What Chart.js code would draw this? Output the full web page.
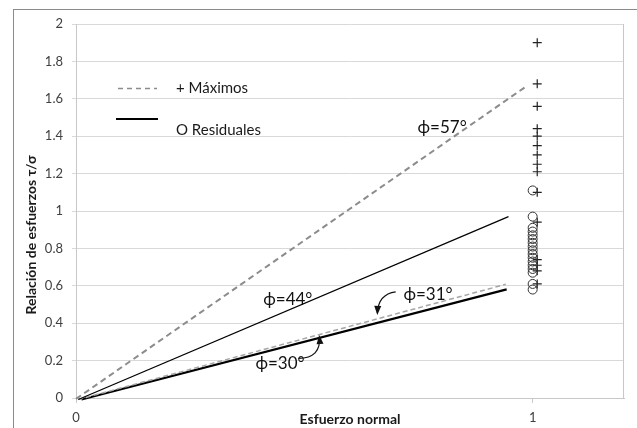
<!DOCTYPE html>
<html lang="es">
<head>
<meta charset="utf-8">
<title>Relación de esfuerzos</title>
<script src="https://cdn.jsdelivr.net/npm/chart.js@4/dist/chart.umd.min.js"></script>
<style>
body { margin: 0; background: #fff; }
#wrap { width: 637px; height: 428px; }
</style>
</head>
<body>
<div id="wrap"><canvas id="chart" width="637" height="428"></canvas></div>
<script>
// values
const xTicks = [0, 1];
const lineLabels = ['ϕ=57°', 'ϕ=44°', 'ϕ=31°', 'ϕ=30°'];
const lineX = [[0, 0.985], [0.005, 0.947], [0.005, 0.941], [0.012, 0.943]];
const lineY = [[-0.005, 1.665], [-0.008, 0.97], [-0.008, 0.608], [-0.008, 0.581]];
const maximosX = 1.01;
const maximosY = [1.90, 1.68, 1.56, 1.44, 1.40, 1.35, 1.30, 1.25, 1.21, 1.10, 0.94, 0.74, 0.71, 0.68, 0.61];
const residualesX = 1;
const residualesY = [1.11, 0.97, 0.91, 0.89, 0.87, 0.85, 0.83, 0.81, 0.79, 0.77, 0.75, 0.73, 0.71, 0.69, 0.67, 0.61, 0.58];
const legendLabels = ['+ Máximos', 'O Residuales'];

const FONT = 'Lato, "DejaVu Sans", sans-serif';

const lineStyles = [
  {color: '#8c8c8c', width: 2, dash: [6, 4]},
  {color: '#000000', width: 1.2, dash: []},
  {color: '#a6a6a6', width: 1.5, dash: [5, 3]},
  {color: '#000000', width: 2.2, dash: []}
];

const datasets = lineLabels.map((lab, i) => ({
  type: 'line',
  label: lab,
  data: lineX[i].map((x, j) => ({x: x, y: lineY[i][j]})),
  borderColor: lineStyles[i].color,
  borderWidth: lineStyles[i].width,
  borderDash: lineStyles[i].dash,
  pointRadius: 0,
  fill: false,
  clip: false
}));
datasets.push({
  type: 'scatter',
  label: 'Residuales',
  data: residualesY.map(y => ({x: residualesX, y: y})),
  pointStyle: 'circle',
  pointRadius: 4.5,
  borderColor: '#333',
  borderWidth: 1,
  backgroundColor: 'rgba(0,0,0,0)'
});
datasets.push({
  type: 'scatter',
  label: 'Máximos',
  data: maximosY.map(y => ({x: maximosX, y: y})),
  pointStyle: 'cross',
  pointRadius: 4.5,
  borderColor: '#222',
  borderWidth: 1.2
});

// label / arrow placement in data units
const notes = [
  {text: lineLabels[0], x: 0.748, y: 1.444},
  {text: lineLabels[1], x: 0.410, y: 0.524},
  {text: lineLabels[2], x: 0.717, y: 0.551},
  {text: lineLabels[3], x: 0.393, y: 0.187}
];
const arrows = [
  {from: [0.700, 0.568], ctrl: [0.662, 0.556], to: [0.660, 0.455]},
  {from: [0.487, 0.212], ctrl: [0.537, 0.214], to: [0.533, 0.326]}
];

const decor = {
  id: 'decor',
  beforeDraw(chart) {
    const ctx = chart.ctx;
    ctx.save();
    ctx.fillStyle = '#fff';
    ctx.fillRect(0, 0, chart.width, chart.height);
    ctx.strokeStyle = '#8a8a8a';
    ctx.lineWidth = 1;
    ctx.strokeRect(13.5, 9.5, 700, 500);
    ctx.restore();
  },
  afterDatasetsDraw(chart) {
    const ctx = chart.ctx;
    const xs = chart.scales.x, ys = chart.scales.y;
    const a = chart.chartArea;
    const px = v => xs.getPixelForValue(v);
    const py = v => ys.getPixelForValue(v);
    ctx.save();
    // plot area frame (right side)
    ctx.strokeStyle = '#c8c8c8';
    ctx.lineWidth = 1;
    ctx.beginPath();
    ctx.moveTo(Math.round(a.right) - 0.5, a.top);
    ctx.lineTo(Math.round(a.right) - 0.5, a.bottom);
    ctx.stroke();

    // annotations
    ctx.fillStyle = '#111';
    ctx.font = '17px ' + FONT;
    ctx.textBaseline = 'middle';
    ctx.textAlign = 'left';
    notes.forEach(n => ctx.fillText(n.text, px(n.x), py(n.y)));

    // curved arrows
    ctx.strokeStyle = '#111';
    ctx.lineWidth = 1.2;
    arrows.forEach(ar => {
      const x0 = px(ar.from[0]), y0 = py(ar.from[1]);
      const cx = px(ar.ctrl[0]), cy = py(ar.ctrl[1]);
      const x1 = px(ar.to[0]), y1 = py(ar.to[1]);
      ctx.beginPath();
      ctx.moveTo(x0, y0);
      ctx.quadraticCurveTo(cx, cy, x1, y1);
      ctx.stroke();
      const ang = Math.atan2(y1 - cy, x1 - cx);
      ctx.beginPath();
      ctx.moveTo(x1 + 2 * Math.cos(ang), y1 + 2 * Math.sin(ang));
      ctx.lineTo(x1 - 7 * Math.cos(ang) + 3.5 * Math.sin(ang), y1 - 7 * Math.sin(ang) - 3.5 * Math.cos(ang));
      ctx.lineTo(x1 - 7 * Math.cos(ang) - 3.5 * Math.sin(ang), y1 - 7 * Math.sin(ang) + 3.5 * Math.cos(ang));
      ctx.closePath();
      ctx.fillStyle = '#111';
      ctx.fill();
    });

    // legend drawn inside the plot
    const lx0 = 118, lx1 = 157;
    ctx.lineWidth = 1.3;
    ctx.strokeStyle = '#8c8c8c';
    ctx.setLineDash([5, 4]);
    ctx.beginPath(); ctx.moveTo(lx0, 88.5); ctx.lineTo(lx1, 88.5); ctx.stroke();
    ctx.setLineDash([]);
    ctx.strokeStyle = '#000';
    ctx.lineWidth = 2;
    ctx.beginPath(); ctx.moveTo(116, 119); ctx.lineTo(158, 119); ctx.stroke();
    ctx.fillStyle = '#1a1a1a';
    ctx.font = '15px ' + FONT;
    ctx.fillText(legendLabels[0], 176, 88);
    ctx.fillText(legendLabels[1], 176, 130);

    // y axis title
    ctx.translate(31, 235);
    ctx.rotate(-Math.PI / 2);
    ctx.textAlign = 'center';
    ctx.font = 'bold 14px ' + FONT;
    ctx.fillStyle = '#1a1a1a';
    ctx.fillText('Relación de esfuerzos τ/σ', 0, 0);
    ctx.restore();
  }
};

new Chart(document.getElementById('chart'), {
  data: {datasets: datasets},
  options: {
    responsive: false,
    animation: false,
    layout: {padding: {top: 24, right: 13, left: 0, bottom: 0}},
    plugins: {legend: {display: false}, tooltip: {enabled: false}},
    scales: {
      x: {
        type: 'linear',
        min: 0,
        max: 1.2,
        afterBuildTicks: s => { s.ticks = xTicks.map(v => ({value: v})); },
        afterFit: s => { s.height = 30; },
        grid: {drawOnChartArea: false, drawTicks: true, tickLength: 5, color: '#c8c8c8'},
        border: {color: '#c8c8c8'},
        ticks: {padding: 7, color: '#404040', font: {family: FONT, size: 13}},
        title: {display: true, text: 'Esfuerzo normal', color: '#1a1a1a',
                font: {family: FONT, size: 14, weight: 'bold'}, padding: {top: 0, bottom: 0}}
      },
      y: {
        type: 'linear',
        min: 0,
        max: 2,
        afterFit: s => { s.width = 76; },
        grid: {color: '#d9d9d9', tickLength: 4},
        border: {color: '#c8c8c8'},
        ticks: {stepSize: 0.2, padding: 9, color: '#404040', font: {family: FONT, size: 13},
                callback: v => String(Math.round(v * 10) / 10)}
      }
    }
  },
  plugins: [decor]
});
</script>
</body>
</html>
